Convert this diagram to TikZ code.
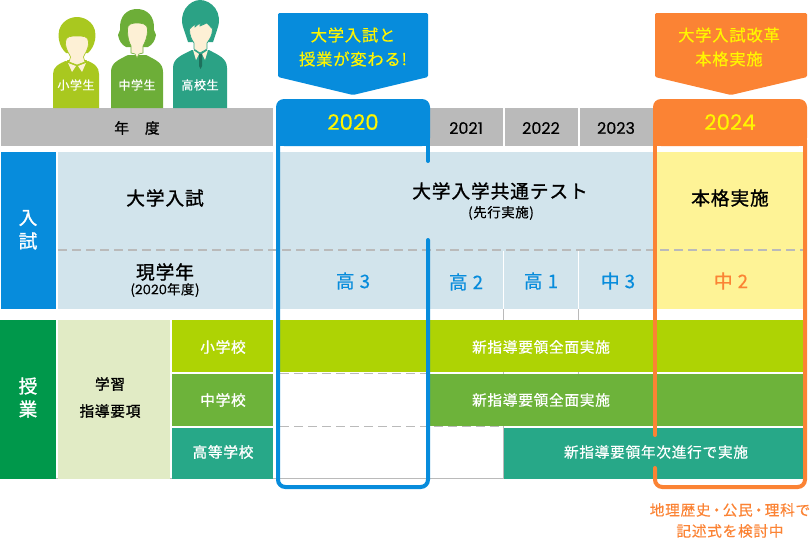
\documentclass[tikz,border=0pt]{standalone}
\usepackage{fontspec}
\setmainfont{Noto Sans CJK JP}[LetterSpace=5]
\newfontfamily\medfont{Noto Sans CJK JP}[LetterSpace=5,FakeBold=0.5]
\newfontfamily\semifont{Noto Sans CJK JP}[LetterSpace=5,FakeBold=1.2]
\newfontfamily\numfont{Poppins}[FakeBold=0.4]
\usetikzlibrary{positioning}

\definecolor{BlueMain}{HTML}{078CDC}
\definecolor{OrangeMain}{HTML}{FB8334}
\definecolor{GrayMain}{HTML}{BABABA}
\definecolor{PaleBlue}{HTML}{D2E4EC}
\definecolor{PaleYellow}{HTML}{FEF396}
\definecolor{PaleGreen}{HTML}{E1EBC5}
\definecolor{GreenOne}{HTML}{AED304}
\definecolor{GreenTwo}{HTML}{6DB33A}
\definecolor{TealMain}{HTML}{27A888}
\definecolor{GreenDark}{HTML}{00984B}
\definecolor{PersonOne}{HTML}{A9C81F}
\definecolor{PersonTwo}{HTML}{6DAE38}
\definecolor{PersonThree}{HTML}{2BA285}
\definecolor{SkinTone}{HTML}{FDF0D5}
\definecolor{SignYellow}{HTML}{FFF500}

\tikzset{
    label12/.style={inner sep=0pt, font=\fontsize{9}{9}\selectfont\medfont},
    sub13/.style={inner sep=0pt, font=\fontsize{10}{10}\selectfont\medfont},
    label15/.style={inner sep=0pt, font=\fontsize{11}{11}\selectfont\medfont},
    head15/.style={inner sep=0pt, font=\fontsize{11}{11}\selectfont\semifont},
    sign16/.style={inner sep=0pt, text=SignYellow, font=\fontsize{12.2}{12.2}\selectfont\medfont},
    head18/.style={inner sep=0pt, font=\fontsize{14}{14}\selectfont\semifont},
    grade18/.style={inner sep=0pt, font=\fontsize{14}{14}\selectfont\medfont},
    yearbig/.style={inner sep=0pt, text=SignYellow, font=\fontsize{16}{16}\selectfont\numfont},
    yearsmall/.style={inner sep=0pt, font=\fontsize{12}{12}\selectfont\numfont},
    frameline/.style={line width=3pt, line cap=round, rounded corners=5.5pt},
    gridline/.style={GrayMain, line width=1pt},
    dashline/.style={GrayMain, line width=1.3pt, dash pattern=on 7pt off 3.5pt},
}

\begin{document}
\begin{tikzpicture}[x=0.75pt, y=-0.75pt]
\useasboundingbox (0,0) rectangle (811,539);

% Grid behind the cells
\draw [gridline] (503.5,309) -- (503.5,479);
\draw [gridline] (578.5,309) -- (578.5,426);
\draw [gridline] (0,478.5) -- (503.5,478.5);

% Top row
\fill [GrayMain] (1,108) rectangle (273,146);
\fill [GrayMain] (430,108) rectangle (502.5,146);
\fill [GrayMain] (505,108) rectangle (577.5,146);
\fill [GrayMain] (580,108) rectangle (653,146);

% Entrance exam block
\fill [BlueMain] (1,152) rectangle (56,309);
\fill [PaleBlue] (58,152) rectangle (273,309);
\fill [PaleBlue] (278,152) rectangle (655,309);
\fill [PaleYellow] (655,152) rectangle (805,309);
\draw [white, line width=1pt] (503.5,251) -- (503.5,309);
\draw [white, line width=1pt] (578.5,251) -- (578.5,309);
\draw [dashline] (58,250) -- (805,250);

% Classes block
\fill [GreenDark] (0,320) rectangle (56,479);
\fill [PaleGreen] (58,320) rectangle (170,479);
\fill [GreenOne] (172,320) rectangle (273,372);
\fill [GreenTwo] (172,374) rectangle (273,426);
\fill [TealMain] (172,428) rectangle (273,479);
\fill [GreenOne] (278,320) rectangle (805,372);
\fill [GreenTwo] (430,374) rectangle (805,426);
\fill [TealMain] (504,428) rectangle (805,479);
\draw [dashline] (280,373.5) -- (428,373.5);
\draw [dashline] (280,426.5) -- (504,426.5);

% Callouts
\fill [BlueMain, rounded corners=1pt] (278,13) -- (428,13) -- (428,77) -- (353,95) -- (278,77) -- cycle;
\fill [OrangeMain, rounded corners=1pt] (655,13) -- (807,13) -- (807,77) -- (731,95) -- (655,77) -- cycle;

% Blue frame
\fill [BlueMain, rounded corners=6pt] (276,146) -- (276,99) -- (430,99) -- (430,146) -- cycle;
\fill [BlueMain] (276,130) rectangle (430,146);
\draw [BlueMain, frameline] (428,161) -- (428,140);
\draw [BlueMain, frameline] (278,140) -- (278,487) -- (428,487) -- (428,240);

% Orange frame
\fill [OrangeMain, rounded corners=6pt] (653,146) -- (653,99) -- (807,99) -- (807,146) -- cycle;
\fill [OrangeMain] (653,130) rectangle (807,146);
\draw [OrangeMain, frameline] (655,140) -- (655,435);
\draw [OrangeMain, frameline] (655,468) -- (655,487) -- (805,487) -- (805,140);

% First person
\fill [PersonOne] (53,108) -- (53,74) .. controls (53,67) and (58,64) .. (68,60) -- (86,60) .. controls (95,64) and (99,67) .. (99,74) -- (99,108) -- cycle;
\draw [white, line width=0.8pt] (65,54) -- (68,58) -- (66,61);
\draw [white, line width=0.8pt] (89,54) -- (86,58) -- (88,61);
\fill [PersonOne] (59,40) .. controls (56,24) and (68,17) .. (77,17) .. controls (86,17) and (98,24) .. (95,40) .. controls (94,46) and (91,50) .. (88,53) -- (66,53) .. controls (63,50) and (60,46) .. (59,40) -- cycle;
\draw [PersonOne, fill=SkinTone, line width=0.5pt] (65.5,42) .. controls (65.5,36) and (71,36) .. (77,36) .. controls (83,36) and (88.5,36) .. (88.5,42) .. controls (88.5,50) and (85,53) .. (83.5,57) -- (85,62) -- (77,65) -- (69,62) -- (70.5,57) .. controls (69,53) and (65.5,50) .. (65.5,42) -- cycle;
\fill [SkinTone] (68,63) -- (76,66) -- (72,72) -- cycle;
\fill [SkinTone] (86,63) -- (78,66) -- (82,72) -- cycle;

% Second person
\fill [PersonTwo] (111,108) -- (111,72) .. controls (111,63) and (118,60) .. (128,55) -- (146,55) .. controls (156,60) and (163,63) .. (163,72) -- (163,108) -- cycle;
\draw [white, line width=0.8pt] (125,47) -- (128,51) -- (126,55);
\draw [white, line width=0.8pt] (150,47) -- (147,51) -- (149,55);
\fill [PersonTwo] (120,30) .. controls (119,16) and (127,9) .. (137,9) .. controls (147,9) and (155,16) .. (154,30) -- (156,35) .. controls (155,41) and (152,45) .. (148,47) -- (126,47) .. controls (122,45) and (119,41) .. (118,35) -- cycle;
\draw [PersonTwo, fill=SkinTone, line width=0.5pt] (127.5,29) .. controls (127.5,24) and (132,23) .. (137,23) .. controls (142,23) and (147.5,24) .. (147.5,29) .. controls (147.5,38) and (145,42) .. (143,46) -- (143,53) -- (139,54) -- (137,58) -- (135,54) -- (131,53) -- (131,46) .. controls (129,42) and (127.5,38) .. (127.5,29) -- cycle;

% Third person
\fill [PersonThree] (173,108) -- (173,68) .. controls (173,58) and (182,55) .. (192,50) -- (209,50) .. controls (218,55) and (227,58) .. (227,68) -- (227,108) -- cycle;
\draw [white, line width=0.8pt] (189,42) -- (192,46) -- (190,50);
\draw [white, line width=0.8pt] (212,42) -- (209,46) -- (211,50);
\fill [PersonThree] (184,30) .. controls (177,12) and (190,0) .. (200,0) .. controls (211,0) and (224,12) .. (217,30) -- (213,42) -- (188,42) -- cycle;
\draw [PersonThree, fill=SkinTone, line width=0.5pt] (189.5,29) -- (195,24) -- (195,27) -- (200,23) -- (200,26) -- (207,23) -- (212.5,29) .. controls (212.5,36) and (209,40) .. (207,43) -- (207,49) -- (200,53) -- (194,49) -- (194,43) .. controls (192,40) and (189.5,36) .. (189.5,29) -- cycle;
\fill [SkinTone] (193,50) -- (199,54) -- (196,60) -- cycle;
\fill [SkinTone] (208,50) -- (202,54) -- (205,60) -- cycle;
\fill [PersonThree!70!black] (199,54) -- (202,54) -- (202,66) -- (200.5,69) -- (199,66) -- cycle;

% Figure labels
\node [label12, text=white] (pupil) at (76,85) {小学生};
\node [label12, text=white] (junior) at (137,85) {中学生};
\node [label12, text=white] (senior) at (200,85) {高校生};

% Header labels
\node [head15] (yearhead) at (137,128) {年\hspace{12pt}度};
\node [yearbig] (yearA) at (353,122) {2020};
\node [yearsmall] (yearB) at (466,128) {2021};
\node [yearsmall] (yearC) at (541,128) {2022};
\node [yearsmall] (yearD) at (616,128) {2023};
\node [yearbig] (yearE) at (730,122) {2024};

% Callout labels
\node [sign16] (signA) at (353,35) {大学入試と};
\node [sign16] (signB) at (353,59) {授業が変わる!};
\node [sign16] (signC) at (729,35) {大学入試改革};
\node [sign16] (signD) at (729,59) {本格実施};

% Entrance exam labels
\node [head18, text=white] (examA) at (28,218) {入};
\node [head18, text=white] (examB) at (28,241) {試};
\node [head18] (exam) at (165,198) {大学入試};
\node [head18] (grade) at (165,272) {現学年};
\node [sub13] (gradeyear) at (165,290) {(\numfont 2020\medfont 年度)};
\node [head18] (common) at (500,191) {大学入学共通テスト};
\node [sub13] (commonsub) at (501,213) {(先行実施)};
\node [head18] (full) at (730,198) {本格実施};
\node [grade18, text=BlueMain] (gradeA) at (353,281) {高 3};
\node [grade18, text=BlueMain] (gradeB) at (466,282) {高 2};
\node [grade18, text=BlueMain] (gradeC) at (541,281) {高 1};
\node [grade18, text=BlueMain] (gradeD) at (618,281) {中 3};
\node [grade18, text=OrangeMain] (gradeE) at (731,281) {中 2};

% Classes labels
\node [head18, text=white] (classA) at (28,386) {授};
\node [head18, text=white] (classB) at (28,409) {業};
\node [head15] (guideA) at (110,384) {学習};
\node [head15] (guideB) at (110,411) {指導要項};
\node [head15, text=white] (schoolA) at (223,347) {小学校};
\node [head15, text=white] (schoolB) at (223,400) {中学校};
\node [head15, text=white] (schoolC) at (223,452) {高等学校};
\node [label15, text=white] (newA) at (541,347) {新指導要領全面実施};
\node [label15, text=white] (newB) at (541,400) {新指導要領全面実施};
\node [label15, text=white] (newC) at (656,452) {新指導要領年次進行で実施};

% Note under the frame
\node [label15, text=OrangeMain] (noteA) at (730,510) {地理歴史\hspace{-1pt}・\hspace{-1pt}公民\hspace{-1pt}・\hspace{-1pt}理科で};
\node [label15, text=OrangeMain] (noteB) at (730,531) {記述式を検討中};

\end{tikzpicture}
\end{document}
